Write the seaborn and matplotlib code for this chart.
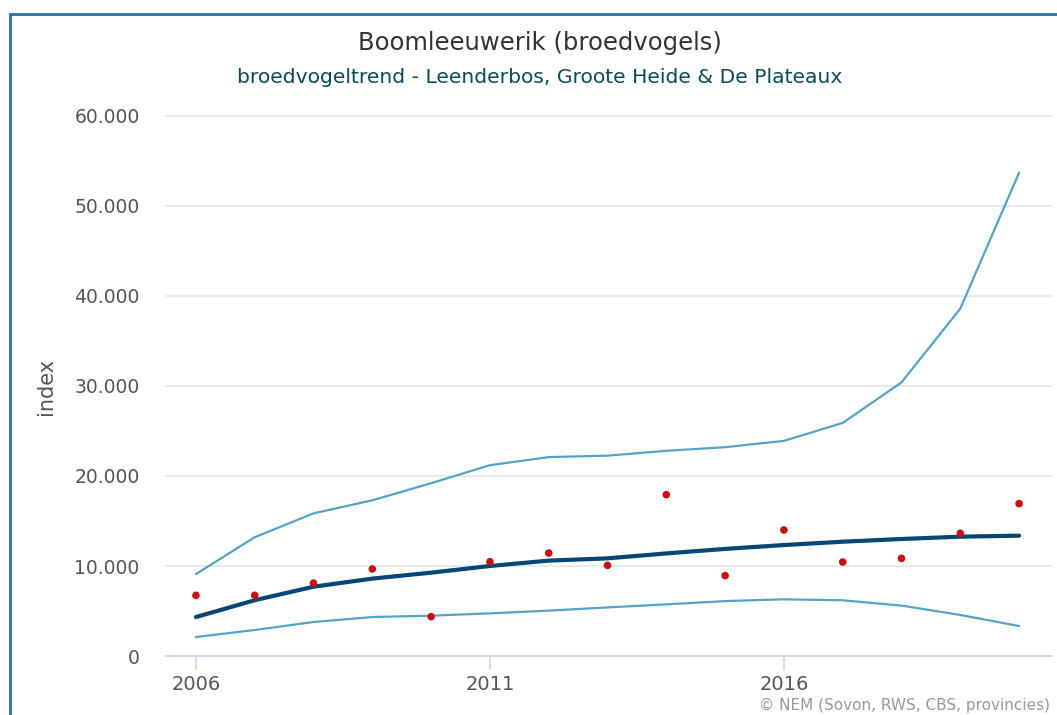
import matplotlib
matplotlib.use("Agg")
import matplotlib.pyplot as plt
from matplotlib.patches import Rectangle
from matplotlib.ticker import FuncFormatter, FixedLocator
import seaborn as sns
import pandas as pd

# Breeding-bird trend: index per year with confidence band and yearly estimates
years = list(range(2006, 2021))
trend = [4330, 6200, 7700, 8600, 9260, 10000, 10600, 10850, 11400, 11900,
         12330, 12700, 13000, 13260, 13370]
upper = [9100, 13200, 15850, 17300, 19200, 21200, 22100, 22260, 22800, 23200,
         23900, 25900, 30400, 38600, 53700]
lower = [2110, 2890, 3780, 4330, 4480, 4740, 5040, 5400, 5740, 6100,
         6300, 6190, 5600, 4560, 3330]
observed = [6740, 6740, 8100, 9670, 4370, 10480, 11440, 10070, 17930, 8930,
            14000, 10440, 10850, 13630, 16930]
x_ticks = [2006, 2011, 2016]
y_ticks = [0, 10000, 20000, 30000, 40000, 50000, 60000]

df = pd.DataFrame({"jaar": years, "trend": trend, "boven": upper,
                   "onder": lower, "waarneming": observed})

sns.set_theme(style="white")
plt.rcParams["font.family"] = ["DejaVu Sans"]

fig = plt.figure(figsize=(10.57, 7.15), dpi=100)
ax = fig.add_axes([0.157, 0.0825, 0.8383, 0.7553])

band_color = "#55a4c7"
sns.lineplot(data=df, x="jaar", y="boven", ax=ax, color=band_color, lw=1.6)
sns.lineplot(data=df, x="jaar", y="onder", ax=ax, color=band_color, lw=1.6)
sns.lineplot(data=df, x="jaar", y="trend", ax=ax, color="#064676", lw=3.0,
             solid_capstyle="round")
sns.scatterplot(data=df, x="jaar", y="waarneming", ax=ax, color="#c81010",
                s=30, edgecolor="none", zorder=5)

ax.set_xlim(2005.49, 2020.56)
ax.set_ylim(0, 60000)
ax.xaxis.set_major_locator(FixedLocator(x_ticks))
ax.yaxis.set_major_locator(FixedLocator(y_ticks))
ax.yaxis.set_major_formatter(
    FuncFormatter(lambda v, _: f"{v:,.0f}".replace(",", ".")))

ax.grid(axis="y", color="#e6e6e6", lw=1.2)
ax.set_axisbelow(True)
for gl in ax.get_ygridlines():
    gl.set_clip_on(False)
for side in ("top", "right", "left"):
    ax.spines[side].set_visible(False)
ax.spines["bottom"].set_color("#ccd6eb")
ax.spines["bottom"].set_linewidth(1.2)

ax.tick_params(axis="x", length=10, width=1.2, color="#ccd6eb",
               labelsize=14, labelcolor="#555555", pad=4, direction="out",
               bottom=True)
ax.tick_params(axis="y", length=0, labelsize=13.5, labelcolor="#555555", pad=19)

ax.set_xlabel("")
ax.set_ylabel("index", fontsize=15, color="#555555", labelpad=13)

fig.text(0.511, 0.94, "Boomleeuwerik (broedvogels)", ha="center",
         va="center", fontsize=17.5, color="#333333")
fig.text(0.511, 0.891, "broedvogeltrend - Leenderbos, Groote Heide & De Plateaux",
         ha="center", va="center", fontsize=14.6, color="#0d4a5a")
fig.text(0.993, 0.013, "© NEM (Sovon, RWS, CBS, provincies)", ha="right",
         va="center", fontsize=11, color="#999999")

# Chart frame, open beyond the right and bottom edges
fig.add_artist(Rectangle((9.5 / 1057, -0.05), 1.2, 1 - 13.5 / 715 + 0.05,
                         transform=fig.transFigure, fill=False,
                         edgecolor="#2673a8", lw=2, clip_on=False))

fig.savefig("out.png", dpi=100)
